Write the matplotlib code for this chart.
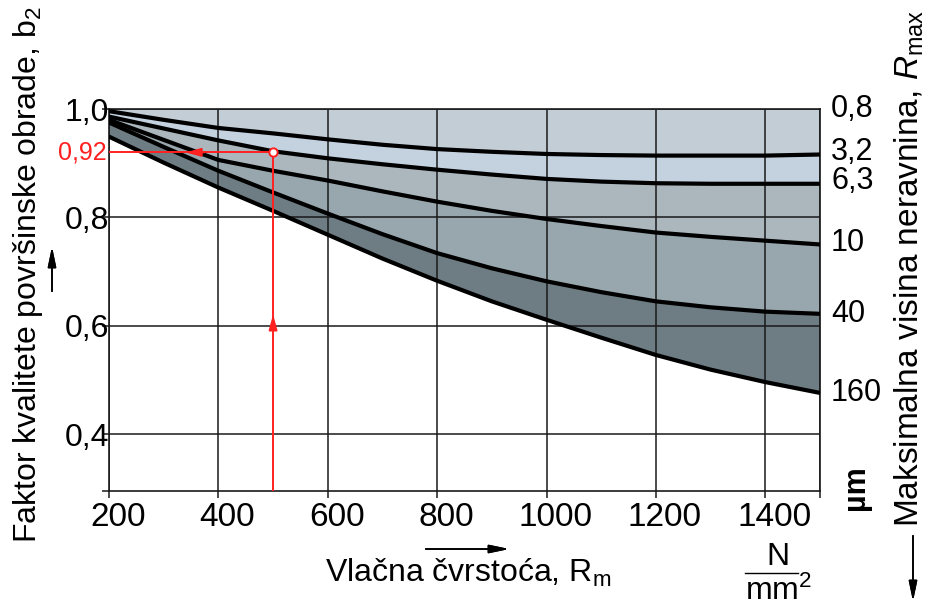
import numpy as np
import matplotlib.pyplot as plt
from matplotlib.transforms import ScaledTranslation

plt.rcParams['font.family'] = ['Liberation Sans', 'DejaVu Sans']
plt.rcParams['mathtext.fontset'] = 'custom'
plt.rcParams['mathtext.rm'] = 'Liberation Sans'
plt.rcParams['mathtext.it'] = 'Liberation Sans:italic'

# ---- data (x in N/mm2, y = factor b2)
rm = [200, 300, 400, 500, 600, 700, 800, 900, 1000, 1100, 1200, 1300, 1400, 1500]
b_32 = [0.996, 0.980, 0.965, 0.955, 0.944, 0.934, 0.926, 0.921, 0.917, 0.915,
        0.914, 0.914, 0.914, 0.916]
b_63 = [0.986, 0.964, 0.942, 0.922, 0.909, 0.898, 0.888, 0.879, 0.871, 0.866,
        0.863, 0.862, 0.862, 0.862]
b_10 = [0.980, 0.943, 0.906, 0.886, 0.868, 0.848, 0.829, 0.812, 0.797, 0.784,
        0.772, 0.764, 0.757, 0.750]
b_40 = [0.975, 0.930, 0.886, 0.846, 0.807, 0.769, 0.734, 0.706, 0.682, 0.662,
        0.645, 0.634, 0.626, 0.622]
b_160 = [0.949, 0.901, 0.855, 0.812, 0.768, 0.724, 0.683, 0.645, 0.611, 0.578,
         0.546, 0.519, 0.496, 0.476]
rmax_labels = ['0,8', '3,2', '6,3', '10', '40', '160']

x_ticks = [200, 400, 600, 800, 1000, 1200, 1400]
y_ticks = [0.4, 0.6, 0.8, 1.0]
y_ticklabels = ['0,4', '0,6', '0,8', '1,0']

ex_rm = 500
ex_b = 0.92

fig = plt.figure(figsize=(9.33, 6.08), dpi=100)
ax = fig.add_axes([109/933, 117/608, 711/933, 382/608])
ax.set_xlim(200, 1500)
ax.set_ylim(0.295, 1.0)

top = np.ones(len(rm))
curves = [top, b_32, b_63, b_10, b_40, b_160]
fills = ['#c3cdd5', '#c4d1de', '#abb6bd', '#98a6ad', '#6e7c83']
for i in range(5):
    ax.fill_between(rm, curves[i], curves[i+1], color=fills[i], lw=0, zorder=1)
for c in curves[1:]:
    ax.plot(rm, c, color='black', lw=3.0, zorder=3, solid_joinstyle='round')

# grid
ax.set_axisbelow(False)
ax.set_xticks(x_ticks + [1500])
ax.set_xticklabels([str(v) for v in x_ticks] + [''])
ax.set_yticks(y_ticks)
ax.set_yticklabels(y_ticklabels)
ax.set_yticks([0.295], minor=True)
ax.grid(True, color='#1a1a1a', lw=1.1)
for s in ax.spines.values():
    s.set_color('#1a1a1a')
    s.set_linewidth(1.2)
ax.tick_params(axis='x', direction='out', length=5, width=1.1, color='#1a1a1a',
               labelsize=24, pad=3)
ax.tick_params(axis='y', which='both', direction='out', length=5, width=1.1,
               color='#1a1a1a', labelsize=23, pad=-5)
shift = ScaledTranslation(9/100, 0, fig.dpi_scale_trans)
for lab in ax.get_xticklabels():
    lab.set_transform(lab.get_transform() + shift)

# right side labels of R_max
nudge = [0, 1.5, 2, 1, 0, 0]
for lab, c, dy in zip(rmax_labels, curves, nudge):
    ax.annotate(lab, xy=(1500, c[-1]), xytext=(8, dy), textcoords='offset points',
                va='center', ha='left', fontsize=22, annotation_clip=False)

# red example reading
ax.plot([ex_rm, ex_rm], [0.295, ex_b], color='#ff2020', lw=1.4, zorder=4)
ax.plot([200, ex_rm], [ex_b, ex_b], color='#ff2020', lw=1.4, zorder=4)
ax.annotate('', xy=(ex_rm, 0.626), xytext=(ex_rm, 0.60),
            arrowprops=dict(arrowstyle='-|>,head_length=0.9,head_width=0.25',
                            color='#ff2020', lw=1.4), zorder=4)
ax.annotate('', xy=(335, ex_b), xytext=(380, ex_b),
            arrowprops=dict(arrowstyle='-|>,head_length=0.9,head_width=0.25',
                            color='#ff2020', lw=1.4), zorder=4)
ax.plot([ex_rm], [ex_b], 'o', ms=6, mfc='white', mec='#ff2020', mew=1.4, zorder=5)
ax.annotate('0,92', xy=(200, ex_b), xytext=(-2, 0), textcoords='offset points',
            ha='right', va='center', color='#ff2020', fontsize=18,
            annotation_clip=False)

# axis titles
fig.text(325/933, 1-573/608, 'Vlačna čvrstoća, R$_{\\mathrm{m}}$', ha='left', va='center',
         fontsize=23)
fig.text(0.030, 1-275/608, 'Faktor kvalitete površinske obrade, b$_{2}$', rotation=90,
         ha='center', va='center', fontsize=23)
fig.text(0.975, 1-268/608, 'Maksimalna visina neravnina, $\\mathit{R}_{\\mathrm{max}}$',
         rotation=90, ha='center', va='center', fontsize=24)
fig.text(0.918, 1-488/608, 'µm', rotation=90, ha='center', va='center', fontsize=22,
         fontweight='bold')

# units
fig.text(778/933, 1-557/608, 'N', ha='center', va='center', fontsize=23)
fig.add_artist(plt.Line2D([745/933, 798/933], [1-573/608, 1-573/608],
                          color='black', lw=1.0))
fig.text(778/933, 1-591/608, 'mm$^{2}$', ha='center', va='center', fontsize=23)

# arrows beside the titles
arr = dict(arrowstyle='-|>,head_length=1.2,head_width=0.25', color='black', lw=1.2)
fig.add_artist(plt.annotate('', xy=(52/933, 1-244/608), xytext=(52/933, 1-294/608),
                            xycoords='figure fraction', arrowprops=arr))
fig.add_artist(plt.annotate('', xy=(512/933, 1-549/608), xytext=(423/933, 1-549/608),
                            xycoords='figure fraction', arrowprops=arr))
fig.add_artist(plt.annotate('', xy=(913/933, 1-604/608), xytext=(913/933, 1-533/608),
                            xycoords='figure fraction', arrowprops=arr))

fig.savefig('out.png', dpi=100)
